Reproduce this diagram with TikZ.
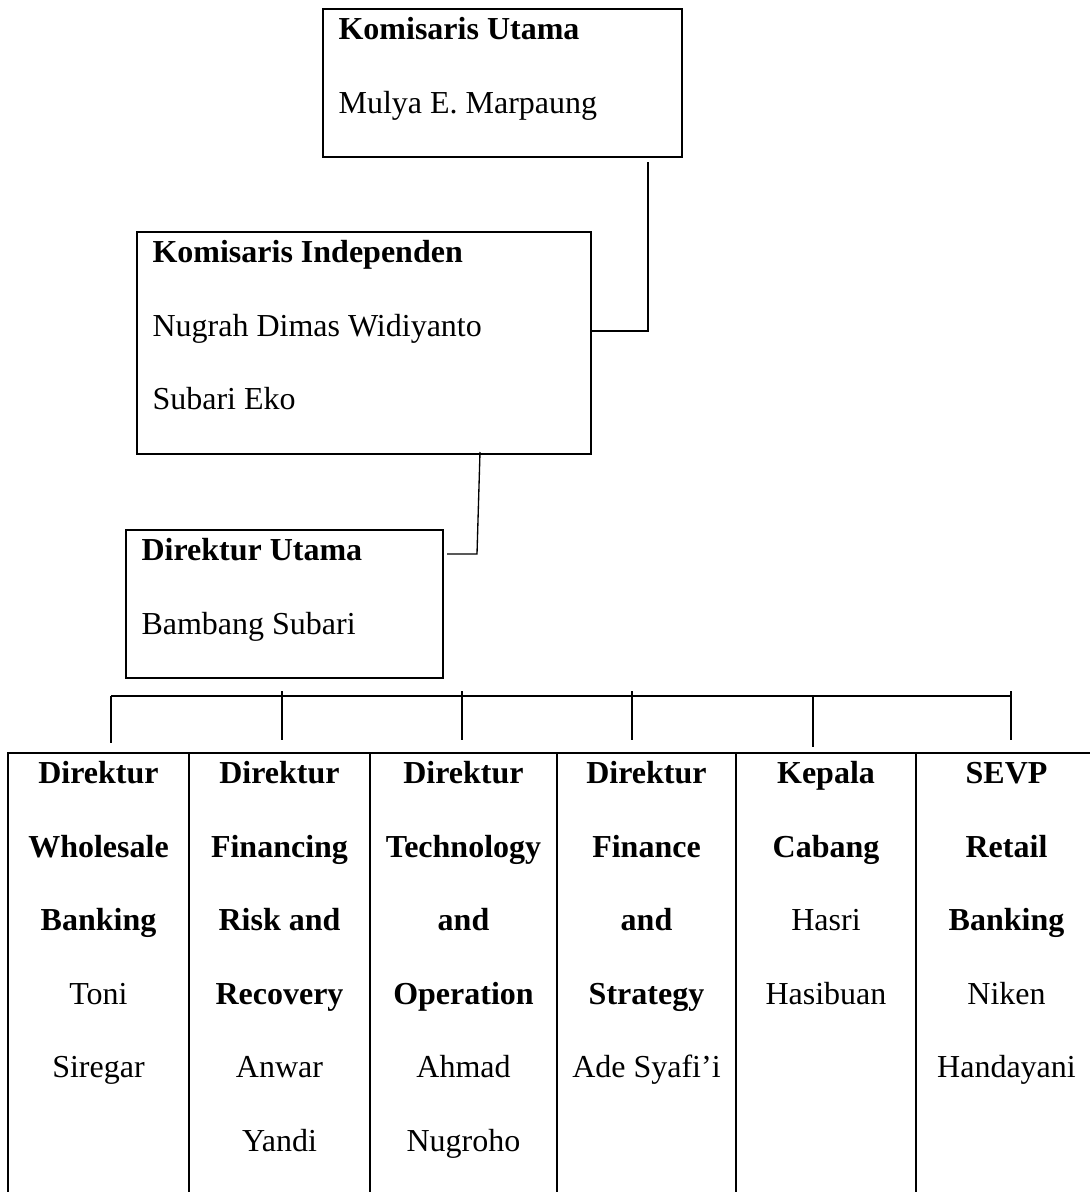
\documentclass[tikz,border=0pt]{standalone}
\usepackage{fontspec}
\setmainfont{Liberation Serif}
\usetikzlibrary{positioning,calc}

\begin{document}
\begin{tikzpicture}[x=0.375pt, y=-0.375pt,
  every node/.style={font=\fontsize{12}{27.6}\selectfont},
  box/.style={draw, line width=0.75pt, inner sep=0pt, outer sep=0pt},
  txt/.style={inner sep=0pt, align=left, anchor=north west},
  cell/.style={draw, line width=0.75pt, inner sep=0pt, outer sep=0pt, minimum height=167.6pt},
  ctxt/.style={inner sep=0pt, align=center, anchor=north},
  conn/.style={line width=0.5pt}]
  \useasboundingbox (0,0) rectangle (1089,1192);

  % boards
  \node[box, minimum width=134.6pt, minimum height=55.5pt] (ku) at (502.5,83) {};
  \node[txt] (ku-t) at ($(ku.north west)+(15,-21.5)$) {\strut\textbf{Komisaris Utama}\\Mulya E. Marpaung};

  \node[box, minimum width=170.25pt, minimum height=83.25pt] (ki) at (364,343) {};
  \node[txt] (ki-t) at ($(ki.north west)+(15,-21.5)$) {\strut\textbf{Komisaris Independen}\\Nugrah Dimas Widiyanto\\Subari Eko};

  \node[box, minimum width=118.9pt, minimum height=55.5pt] (du) at (284.5,604) {};
  \node[txt] (du-t) at ($(du.north west)+(15,-21.5)$) {\strut\textbf{Direktur Utama}\\Bambang Subari};

  % links between the boards
  \coordinate (j1) at (648,331);
  \draw[conn] ($(ku.south -| j1)+(0,5)$) -- (j1) -- (j1 -| ki.east);
  \coordinate (j2) at (477,554);
  \draw[conn] ($(ki.south -| j2)+(3,-2)$) -- (j2) -- ($(j2 -| du.east)+(4,0)$);

  % directors row
  \node[cell, minimum width=67.875pt, anchor=north west] (c1) at (8,753) {};
  \node[cell, minimum width=67.875pt, right=0pt of c1] (c2) {};
  \node[cell, minimum width=70.125pt, right=0pt of c2] (c3) {};
  \node[cell, minimum width=67.125pt, right=0pt of c3] (c4) {};
  \node[cell, minimum width=67.5pt, right=0pt of c4] (c5) {};
  \node[cell, minimum width=67.875pt, right=0pt of c5] (c6) {};

  \node[ctxt] (c1-t) at ($(c1.north)+(0,-21.5)$) {\strut\textbf{Direktur}\\\textbf{Wholesale}\\\textbf{Banking}\\Toni\\Siregar};
  \node[ctxt] (c2-t) at ($(c2.north)+(0,-21.5)$) {\strut\textbf{Direktur}\\\textbf{Financing}\\\textbf{Risk and}\\\textbf{Recovery}\\Anwar\\Yandi};
  \node[ctxt] (c3-t) at ($(c3.north)+(0,-21.5)$) {\strut\textbf{Direktur}\\\textbf{Technology}\\\textbf{and}\\\textbf{Operation}\\Ahmad\\Nugroho};
  \node[ctxt] (c4-t) at ($(c4.north)+(0,-21.5)$) {\strut\textbf{Direktur}\\\textbf{Finance}\\\textbf{and}\\\textbf{Strategy}\\Ade Syafi’i};
  \node[ctxt] (c5-t) at ($(c5.north)+(0,-21.5)$) {\strut\textbf{Kepala}\\\textbf{Cabang}\\Hasri\\Hasibuan};
  \node[ctxt] (c6-t) at ($(c6.north)+(0,-21.5)$) {\strut\textbf{SEVP}\\\textbf{Retail}\\\textbf{Banking}\\Niken\\Handayani};

  % bus and drops
  \coordinate (bl) at (111,696);
  \coordinate (br) at (1011,696);
  \coordinate (t1) at (111,743);
  \coordinate (t2) at (282,740);
  \coordinate (t3) at (462,740);
  \coordinate (t4) at (632,740);
  \coordinate (t5) at (813,747);
  \coordinate (t6) at (1011,740);
  \draw[conn] (bl) -- (br);
  \draw[conn] (bl) -- (t1);
  \draw[conn] ($(t2 |- bl)+(0,-5)$) -- (t2);
  \draw[conn] ($(t3 |- bl)+(0,-5)$) -- (t3);
  \draw[conn] ($(t4 |- bl)+(0,-5)$) -- (t4);
  \draw[conn] (t5 |- bl) -- (t5);
  \draw[conn] ($(br)+(0,-5)$) -- (t6);
\end{tikzpicture}
\end{document}
